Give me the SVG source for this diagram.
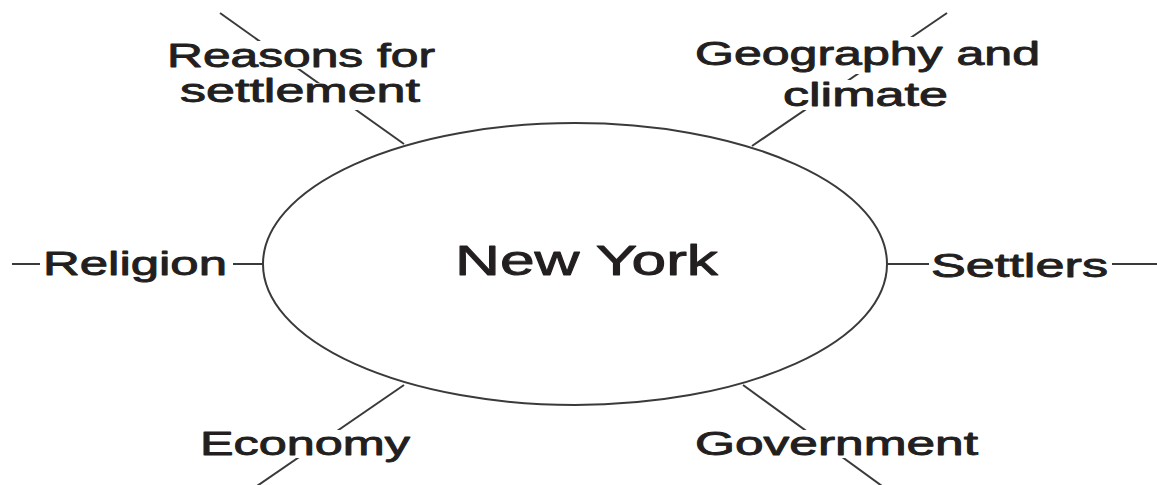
<svg xmlns="http://www.w3.org/2000/svg" width="1157" height="485" viewBox="0 0 1157 485">
<style>
.ln{stroke:#3a3a3a;stroke-width:2;fill:none}
.bg{fill:#fff}
.t{font-family:"Liberation Sans",Arial,sans-serif;font-size:34px;fill:#231f20;stroke:#231f20;stroke-width:0.9;stroke-linejoin:round}
.m{font-size:42px}
</style>
<rect width="1157" height="485" fill="#fff"/>
<g id="connectors">
<line class="ln" x1="220" y1="13" x2="404" y2="144"/>
<line class="ln" x1="947" y1="13" x2="752" y2="146"/>
<line class="ln" x1="404" y1="385" x2="257" y2="486"/>
<line class="ln" x1="743" y1="385" x2="882" y2="486"/>
<line class="ln" x1="12" y1="264" x2="263" y2="264"/>
<line class="ln" x1="887" y1="264" x2="1157" y2="264"/>
</g>
<g id="center">
<ellipse class="ln" cx="575" cy="264" rx="312" ry="141"/>
<text class="t m" x="455" y="275" textLength="263" lengthAdjust="spacingAndGlyphs">New York</text>
</g>
<g id="reasons">
<rect class="bg" x="165" y="41" width="272" height="28"/>
<rect class="bg" x="178" y="83" width="244" height="27"/>
<text class="t" x="167" y="67" textLength="268" lengthAdjust="spacingAndGlyphs">Reasons for</text>
<text class="t" x="180" y="102" textLength="240" lengthAdjust="spacingAndGlyphs">settlement</text>
</g>
<g id="geography">
<rect class="bg" x="693" y="37" width="349" height="37"/>
<rect class="bg" x="781" y="80" width="169" height="30"/>
<text class="t" x="695" y="65" textLength="345" lengthAdjust="spacingAndGlyphs">Geography and</text>
<text class="t" x="783" y="106" textLength="165" lengthAdjust="spacingAndGlyphs">climate</text>
</g>
<g id="religion">
<rect class="bg" x="40" y="245" width="193" height="40"/>
<text class="t" x="43" y="275" textLength="184" lengthAdjust="spacingAndGlyphs">Religion</text>
</g>
<g id="settlers">
<rect class="bg" x="929" y="245" width="183" height="40"/>
<text class="t" x="931" y="277" textLength="177" lengthAdjust="spacingAndGlyphs">Settlers</text>
</g>
<g id="economy">
<rect class="bg" x="198" y="430" width="214" height="28"/>
<text class="t" x="200" y="455" textLength="210" lengthAdjust="spacingAndGlyphs">Economy</text>
</g>
<g id="government">
<rect class="bg" x="693" y="430" width="287" height="28"/>
<text class="t" x="695" y="455" textLength="283" lengthAdjust="spacingAndGlyphs">Government</text>
</g>
</svg>
